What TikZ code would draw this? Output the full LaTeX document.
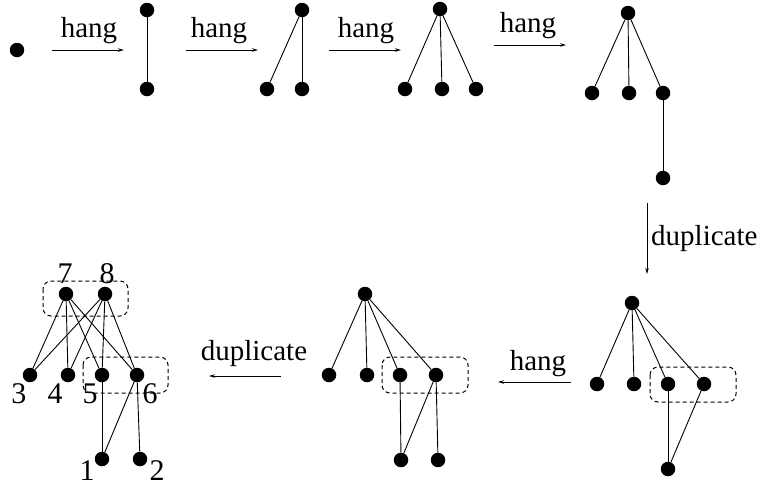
\documentclass[tikz,border=0pt]{standalone}
\usepackage{fontspec}
\setmainfont{Liberation Serif}
\usetikzlibrary{arrows.meta}
\begin{document}
\begin{tikzpicture}[x=1pt,y=-1pt,
  dot/.style={circle,fill=black,inner sep=0pt,minimum size=14.5pt},
  edge/.style={draw=black,line width=0.9pt},
  arr/.style={draw=black,line width=0.9pt,-{Stealth[length=6pt,width=3.5pt]}},
  lbl/.style={font=\fontsize{29}{32}\selectfont,inner sep=0pt,anchor=base},
  num/.style={font=\fontsize{30}{32}\selectfont,inner sep=0pt,anchor=base},
  grp/.style={draw=black,line width=1pt,dash pattern=on 4pt off 3pt,rounded corners=8pt}]
\useasboundingbox (0,0) rectangle (760,485);
% ---- top row ----
\node[dot] (g1a) at (17,50) {};
\coordinate (a1s) at (52,50); \coordinate (a1e) at (124,50);
\draw[arr] (a1s) -- (a1e);
\node[lbl] (t1) at (89,37) {hang};

\node[dot] (g2t) at (147,10) {};
\node[dot] (g2b) at (147,89) {};
\draw[edge] (g2t) -- (g2b);
\coordinate (a2s) at (186,50); \coordinate (a2e) at (258,50);
\draw[arr] (a2s) -- (a2e);
\node[lbl] (t2) at (219,37) {hang};

\node[dot] (g3t) at (302,10) {};
\node[dot] (g3a) at (267,89) {};
\node[dot] (g3b) at (302,89) {};
\draw[edge] (g3t) -- (g3a);
\draw[edge] (g3t) -- (g3b);
\coordinate (a3s) at (329,50); \coordinate (a3e) at (401,50);
\draw[arr] (a3s) -- (a3e);
\node[lbl] (t3) at (366,37) {hang};

\node[dot] (g4t) at (440,9) {};
\node[dot] (g4a) at (405,89) {};
\node[dot] (g4b) at (442,89) {};
\node[dot] (g4c) at (476,89) {};
\draw[edge] (g4t) -- (g4a);
\draw[edge] (g4t) -- (g4b);
\draw[edge] (g4t) -- (g4c);
\coordinate (a4s) at (494,45); \coordinate (a4e) at (566,45);
\draw[arr] (a4s) -- (a4e);
\node[lbl] (t4) at (528,32) {hang};

\node[dot] (g5t) at (628,13) {};
\node[dot] (g5a) at (592,93) {};
\node[dot] (g5b) at (629,93) {};
\node[dot] (g5c) at (663,93) {};
\node[dot] (g5d) at (663,178) {};
\draw[edge] (g5t) -- (g5a);
\draw[edge] (g5t) -- (g5b);
\draw[edge] (g5t) -- (g5c);
\draw[edge] (g5c) -- (g5d);
% ---- vertical duplicate ----
\coordinate (v1s) at (647,203); \coordinate (v1e) at (647,274);
\draw[arr] (v1s) -- (v1e);
\node[lbl,anchor=base west] (t5) at (651,245) {duplicate};
% ---- bottom right ----
\node[dot] (g6t) at (632,303) {};
\node[dot] (g6a) at (597,384) {};
\node[dot] (g6b) at (634,384) {};
\node[dot] (g6c) at (668,384) {};
\node[dot] (g6d) at (704,384) {};
\node[dot] (g6e) at (668,469) {};
\draw[edge] (g6t) -- (g6a);
\draw[edge] (g6t) -- (g6b);
\draw[edge] (g6t) -- (g6c);
\draw[edge] (g6t) -- (g6d);
\draw[edge] (g6c) -- (g6e);
\draw[edge] (g6d) -- (g6e);
\draw[grp] (650,367) rectangle (736,402);
% ---- bottom hang ----
\coordinate (h1s) at (571,382); \coordinate (h1e) at (498,382);
\draw[arr] (h1s) -- (h1e);
\node[lbl] (t6) at (538,370) {hang};
% ---- bottom middle ----
\node[dot] (g7t) at (365,294) {};
\node[dot] (g7a) at (329,375) {};
\node[dot] (g7b) at (367,375) {};
\node[dot] (g7c) at (400,375) {};
\node[dot] (g7d) at (436,375) {};
\node[dot] (g7e) at (401,460) {};
\node[dot] (g7f) at (438,460) {};
\draw[edge] (g7t) -- (g7a);
\draw[edge] (g7t) -- (g7b);
\draw[edge] (g7t) -- (g7c);
\draw[edge] (g7t) -- (g7d);
\draw[edge] (g7c) -- (g7e);
\draw[edge] (g7d) -- (g7e);
\draw[edge] (g7d) -- (g7f);
\draw[grp] (382,357) rectangle (468,393);
% ---- bottom duplicate ----
\coordinate (d1s) at (281,376); \coordinate (d1e) at (209,376);
\draw[arr] (d1s) -- (d1e);
\node[lbl] (t7) at (254,360) {duplicate};
% ---- bottom left ----
\node[dot] (n7) at (66,294) {};
\node[dot] (n8) at (105,294) {};
\node[dot] (n3) at (30,375) {};
\node[dot] (n4) at (68,375) {};
\node[dot] (n5) at (102,375) {};
\node[dot] (n6) at (137,375) {};
\node[dot] (n1) at (102,459) {};
\node[dot] (n2) at (140,459) {};
\foreach \s in {n7,n8}{\foreach \t in {n3,n4,n5,n6}{\draw[edge] (\s) -- (\t);}}
\draw[edge] (n5) -- (n1);
\draw[edge] (n6) -- (n1);
\draw[edge] (n6) -- (n2);
\draw[grp] (43,281) rectangle (128,316);
\draw[grp] (83,357) rectangle (168,393);
\node[num] (l7) at (65,283) {7};
\node[num] (l8) at (107,283) {8};
\node[num] (l3) at (19,403) {3};
\node[num] (l4) at (55,403) {4};
\node[num] (l5) at (90,403) {5};
\node[num] (l6) at (150,403) {6};
\node[num] (l1) at (87,480) {1};
\node[num] (l2) at (157,480) {2};
\end{tikzpicture}
\end{document}
